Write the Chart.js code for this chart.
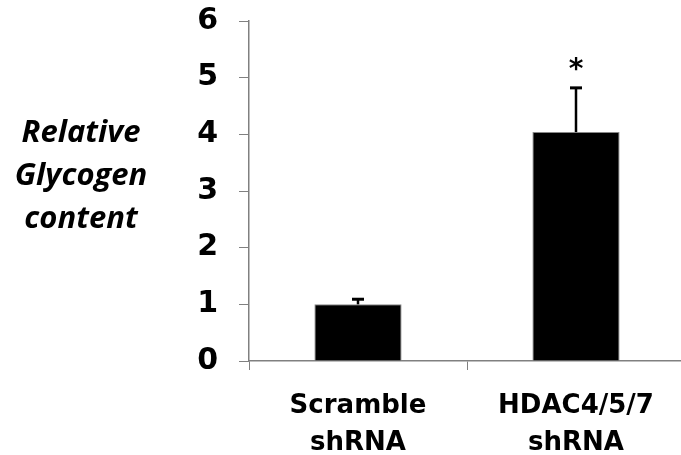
<!DOCTYPE html>
<html>
<head>
<meta charset="utf-8">
<script src="https://cdn.jsdelivr.net/npm/chart.js@4.4.1/dist/chart.umd.min.js"></script>
<style>
  html, body { margin: 0; padding: 0; background: #fff; overflow: hidden; }
  #wrap { width: 690px; height: 455px; }
</style>
</head>
<body>
<div id="wrap"><canvas id="glyco-chart" width="690" height="455"></canvas></div>
<script>
var categories = [["Scramble", "shRNA"], ["HDAC4/5/7", "shRNA"]];
var means = [1.0, 4.04];
var errors = [0.09, 0.78];
var marks = ["", "*"];
var yTicks = [0, 1, 2, 3, 4, 5, 6];
var yTitle = ["Relative", "Glycogen", "content"];

var axisGray = "#808080";

var errorBars = {
  id: "errorBars",
  afterDatasetsDraw: function(chart) {
    var ctx = chart.ctx;
    var y = chart.scales.y;
    var meta = chart.getDatasetMeta(0);
    ctx.save();
    meta.data.forEach(function(bar, i) {
      var px = bar.x;
      var base = y.getPixelForValue(means[i]);
      var top = y.getPixelForValue(means[i] + errors[i]);
      ctx.strokeStyle = "#000";
      ctx.lineWidth = 2.5;
      ctx.beginPath();
      ctx.moveTo(px, base);
      ctx.lineTo(px, top);
      ctx.stroke();
      ctx.lineWidth = 3;
      ctx.beginPath();
      ctx.moveTo(px - 6, top);
      ctx.lineTo(px + 6, top);
      ctx.stroke();
      if (marks[i]) {
        ctx.fillStyle = "#000";
        ctx.font = "bold 28px 'DejaVu Sans'";
        ctx.textAlign = "center";
        ctx.textBaseline = "alphabetic";
        ctx.fillText(marks[i], px, top - 10);
      }
    });
    ctx.restore();
  }
};

var sideTitle = {
  id: "sideTitle",
  afterDraw: function(chart) {
    var ctx = chart.ctx;
    ctx.save();
    ctx.fillStyle = "#000";
    ctx.font = "italic bold 31px 'Open Sans'";
    ctx.textAlign = "center";
    ctx.textBaseline = "middle";
    yTitle.forEach(function(line, i) {
      ctx.fillText(line, 81, 133 + i * 43);
    });
    ctx.restore();
  }
};

window.onload = function() {
  var ctx = document.getElementById("glyco-chart").getContext("2d");
  new Chart(ctx, {
    type: "bar",
    data: {
      labels: categories,
      datasets: [{
        data: means,
        backgroundColor: "#000",
        borderColor: "#888",
        borderWidth: 1,
        barPercentage: 0.4,
        categoryPercentage: 1.0
      }]
    },
    options: {
      responsive: false,
      animation: false,
      layout: { padding: { left: 0, right: 5, top: 21, bottom: 0 } },
      plugins: { legend: { display: false }, tooltip: { enabled: false } },
      scales: {
        x: {
          offset: true,
          grid: { offset: true, drawOnChartArea: false, drawTicks: true, tickLength: 9, color: axisGray },
          border: { color: axisGray, width: 1.5 },
          ticks: {
            color: "#000",
            padding: 18,
            maxRotation: 0,
            font: { family: "'DejaVu Sans'", weight: "bold", size: 26, lineHeight: 1.42 }
          },
          afterFit: function(s) { s.height = 94; s.paddingLeft = 0; s.paddingRight = 0; }
        },
        y: {
          min: 0,
          max: 6,
          afterBuildTicks: function(s) { s.ticks = yTicks.map(function(v) { return { value: v }; }); },
          grid: { drawOnChartArea: false, drawTicks: true, tickLength: 10, color: axisGray },
          border: { color: axisGray, width: 1.5 },
          ticks: {
            color: "#000",
            padding: 21,
            font: { family: "'DejaVu Sans'", weight: "bold", size: 30 }
          },
          afterFit: function(s) { s.width = 249; s.paddingTop = 0; s.paddingBottom = 0; }
        }
      }
    },
    plugins: [errorBars, sideTitle]
  });
};
</script>
</body>
</html>
